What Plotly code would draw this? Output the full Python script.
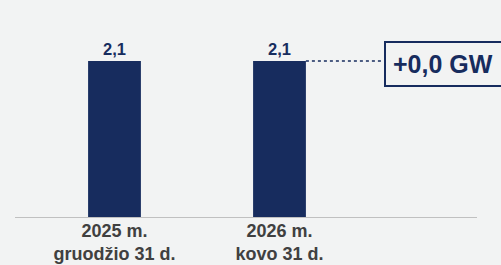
import plotly.graph_objects as go

categories = ["2025 m.<br>gruodžio 31 d.", "2026 m.<br>kovo 31 d."]
values = [2.1, 2.1]
value_labels = ["2,1", "2,1"]
change_label = "+0,0 GW"

navy = "#172c5e"
bg = "#f2f3f3"
bar_width = 0.32
xpos = list(range(len(categories)))

fig = go.Figure()
fig.add_trace(go.Bar(
    x=xpos, y=values, width=bar_width,
    marker=dict(color=navy, line=dict(width=0)),
    text=value_labels, textposition="outside",
    texttemplate="<b>%{text}</b>",
    textfont=dict(family="Liberation Sans, Arial", size=16.5, color=navy),
    cliponaxis=False, hoverinfo="skip",
))

# dotted connector from last bar top to change box
fig.add_shape(type="line", xref="x", yref="y",
              x0=xpos[-1] + bar_width / 2, x1=1.633,
              y0=values[-1], y1=values[-1],
              line=dict(color=navy, width=1.5, dash="dot"))

fig.add_annotation(
    xref="paper", yref="y", x=0.799, y=values[-1] - 0.04,
    xanchor="left", yanchor="middle",
    text="<b>" + change_label + "</b>", showarrow=False, align="left",
    width=150,
    font=dict(family="Liberation Sans, Arial", size=25, color=navy),
    bordercolor=navy, borderwidth=2, borderpad=7, bgcolor=bg,
)

fig.update_layout(
    width=501, height=265,
    margin=dict(l=15, r=24, t=10, b=48, autoexpand=False),
    paper_bgcolor=bg, plot_bgcolor=bg,
    showlegend=False,
    font=dict(family="Liberation Sans, Arial"),
)
fig.update_xaxes(
    range=[-0.603, 2.197], tickvals=xpos,
    ticktext=["<b>" + c + "</b>" for c in categories],
    tickfont=dict(family="Liberation Sans, Arial", size=18, color="#404040"),
    showgrid=False, zeroline=False, showline=True, linecolor="#c0c0c0", linewidth=1,
    ticks="", fixedrange=True, automargin=False, ticklabelstandoff=-3,
)
fig.update_yaxes(range=[0, 2.786], visible=False, showgrid=False, zeroline=False,
                 automargin=False, fixedrange=True)

fig.write_html(
    "out.html",
    config={"displayModeBar": False},
    post_script="document.body.style.margin='0';document.body.style.background='%s';" % bg,
)
